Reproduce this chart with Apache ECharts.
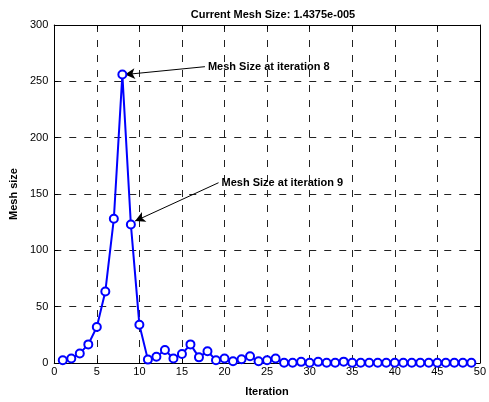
<!DOCTYPE html>
<html>
<head>
<meta charset="utf-8">
<script src="https://cdn.jsdelivr.net/npm/echarts@6/dist/echarts.min.js"></script>
<style>
  html, body { margin: 0; padding: 0; background: #fff; }
  #chart { width: 489px; height: 402px; }
</style>
</head>
<body>
<div id="chart"></div>
<script>
// mesh size per iteration
const iterations = [];
for (let i = 1; i <= 49; i++) iterations.push(i);
const meshSize = [
  2.4, 4, 8.5, 16.5, 32, 63.5, 128, 256, 123, 34,
  3, 5.5, 11.5, 4, 8, 16.5, 5, 10.5, 2.4, 4,
  1.5, 3.3, 6, 1.5, 2.4, 4, 0.3, 0.3, 1, 0.3,
  1, 0.3, 0.3, 1.2, 0.3, 0.3, 0.3, 0.3, 0.3, 0.3,
  0.3, 0.3, 0.3, 0.3, 0.3, 0.3, 0.3, 0.3, 0.3
];
const xTicks = [0, 5, 10, 15, 20, 25, 30, 35, 40, 45, 50];
const yTicks = [0, 50, 100, 150, 200, 250, 300];

// annotation arrows: [text anchor, arrow tip] in data units
const notes = [
  { text: "Mesh Size at iteration 8", from: [17.7, 263], to: [8.3, 256] },
  { text: "Mesh Size at iteration 9", from: [19.3, 160], to: [9.5, 126] }
];

const font = "Liberation Sans, Arial, sans-serif";
const chart = echarts.init(document.getElementById("chart"));

const baseAxis = {
  axisLine: { show: true, onZero: false, lineStyle: { color: "#000", width: 1 } },
  axisTick: { show: true, inside: true, length: 4, lineStyle: { color: "#000" } },
  axisLabel: { color: "#000", fontFamily: font, fontSize: 11 },
  splitLine: { show: false }
};
const gridLine = { show: true, lineStyle: { color: "#222", type: [7, 8], width: 1 } };

chart.setOption({
  animation: false,
  title: {
    text: "Current Mesh Size: 1.4375e-005",
    left: 268, top: 4, textAlign: "center",
    textStyle: { fontFamily: font, fontSize: 11, fontWeight: "bold", color: "#000" }
  },
  grid: { left: 53, right: 7, top: 25, bottom: 37 },
  xAxis: [
    Object.assign({}, baseAxis, {
      type: "value", min: xTicks[0], max: xTicks[xTicks.length - 1], interval: xTicks[1] - xTicks[0],
      name: "Iteration", nameLocation: "middle", nameGap: 23,
      nameTextStyle: { fontFamily: font, fontSize: 11, fontWeight: "bold", color: "#000" },
      axisLabel: Object.assign({}, baseAxis.axisLabel, { margin: 3 }),
      splitLine: gridLine
    }),
    Object.assign({}, baseAxis, {
      type: "value", min: xTicks[0], max: xTicks[xTicks.length - 1], interval: xTicks[1] - xTicks[0],
      position: "top", axisLabel: { show: false }
    })
  ],
  yAxis: [
    Object.assign({}, baseAxis, {
      type: "value", min: yTicks[0], max: yTicks[yTicks.length - 1], interval: yTicks[1] - yTicks[0],
      name: "Mesh size", nameLocation: "middle", nameGap: 32,
      nameTextStyle: { fontFamily: font, fontSize: 11, fontWeight: "bold", color: "#000" },
      axisLabel: Object.assign({}, baseAxis.axisLabel, { margin: 6 }),
      splitLine: gridLine
    }),
    Object.assign({}, baseAxis, {
      type: "value", min: yTicks[0], max: yTicks[yTicks.length - 1], interval: yTicks[1] - yTicks[0],
      position: "right", axisLabel: { show: false }
    })
  ],
  series: [
    {
      type: "line",
      data: iterations.map((x, i) => [x, meshSize[i]]),
      symbol: "circle",
      symbolSize: 8,
      showAllSymbol: true,
      lineStyle: { color: "#0000ff", width: 2 },
      itemStyle: { color: "#fff", borderColor: "#0000ff", borderWidth: 2 },
      z: 5,
      markLine: {
        silent: true,
        symbol: ["none", "arrow"],
        symbolSize: [8, 10],
        lineStyle: { color: "#000", width: 1, type: "solid" },
        label: { show: false },
        data: notes.map(n => [{ coord: n.from }, { coord: n.to }])
      },
      markPoint: {
        silent: true,
        symbol: "circle",
        symbolSize: 0,
        data: notes.map(n => ({
          coord: n.from,
          label: {
            show: true, position: "right", distance: 3,
            formatter: n.text,
            fontFamily: font, fontSize: 11, fontWeight: "bold", color: "#000"
          }
        }))
      }
    }
  ]
});
</script>
</body>
</html>
